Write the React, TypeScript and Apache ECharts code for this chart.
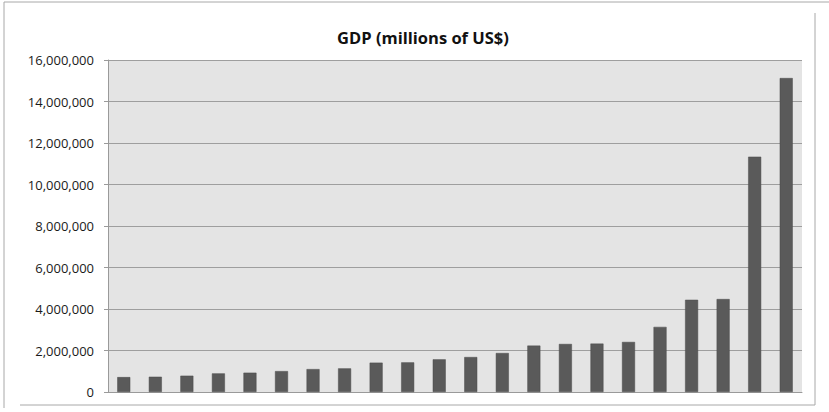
import React, { useEffect, useRef } from "react";
import * as echarts from "echarts";

const categories = [
  "1", "2", "3", "4", "5", "6", "7", "8", "9", "10", "11",
  "12", "13", "14", "15", "16", "17", "18", "19", "20", "21", "22",
];
const gdpValues = [
  717000, 736000, 785000, 896000, 930000, 1007000, 1104000, 1138000,
  1414000, 1428000, 1574000, 1685000, 1879000, 2237000, 2315000, 2334000,
  2412000, 3138000, 4445000, 4479000, 11340000, 15130000,
];
const titleText = "GDP (millions of US$)";

export default function App() {
  const ref = useRef<HTMLDivElement>(null);
  useEffect(() => {
    document.body.style.margin = "0";
    const chart = echarts.init(ref.current!, null, { renderer: "svg" });
    chart.setOption({
      animation: false,
      backgroundColor: "#ffffff",
      title: {
        text: titleText,
        left: 418,
        top: 24,
        textAlign: "center",
        textStyle: {
          fontFamily: "Open Sans",
          fontWeight: "bold",
          fontSize: 16.5,
          color: "#111",
        },
      },
      grid: {
        left: 108,
        right: 27,
        top: 60,
        bottom: 20,
        show: true,
        backgroundColor: "#e4e4e4",
        borderWidth: 0,
      },
      xAxis: {
        type: "category",
        data: categories,
        axisLine: { show: true, lineStyle: { color: "#9a9a9a", width: 1 } },
        axisTick: { show: false },
        axisLabel: { show: false },
      },
      yAxis: {
        type: "value",
        min: 0,
        max: 16000000,
        interval: 2000000,
        axisLine: { show: true, lineStyle: { color: "#9a9a9a", width: 1 } },
        axisTick: { show: true, length: 4, lineStyle: { color: "#9a9a9a" } },
        splitLine: { show: true, lineStyle: { color: "#9e9e9e", width: 1 } },
        axisLabel: {
          margin: 14,
          fontFamily: "Open Sans",
          fontSize: 13,
          color: "#1a1a1a",
          formatter: (v: number) => v.toLocaleString("en-US"),
        },
      },
      series: [
        {
          type: "bar",
          data: gdpValues,
          barWidth: 13,
          itemStyle: { color: "#5a5a5a", borderColor: "#4c4c4c", borderWidth: 0.5 },
        },
      ],
      graphic: [
        { type: "line", shape: { x1: 4, y1: 2, x2: 829, y2: 2 }, style: { stroke: "#a8a8a8", lineWidth: 1 } },
        { type: "line", shape: { x1: 4, y1: 2, x2: 4, y2: 408 }, style: { stroke: "#a8a8a8", lineWidth: 1 } },
        { type: "line", shape: { x1: 815, y1: 13, x2: 815, y2: 405 }, style: { stroke: "#a8a8a8", lineWidth: 1 } },
        { type: "line", shape: { x1: 20, y1: 405, x2: 815, y2: 405 }, style: { stroke: "#a8a8a8", lineWidth: 1 } },
      ],
    });
    return () => chart.dispose();
  }, []);
  return (
    <div
      ref={ref}
      style={{ position: "fixed", left: 0, top: 0, width: 829, height: 412 }}
    />
  );
}
